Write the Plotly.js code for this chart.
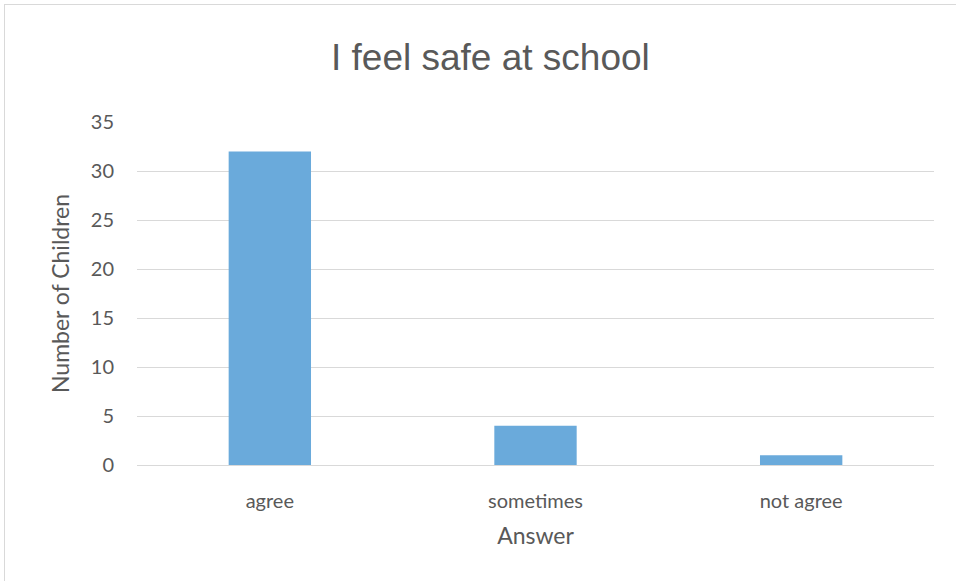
<!DOCTYPE html>
<html>
<head>
<meta charset="utf-8">
<script src="https://cdn.plot.ly/plotly-3.0.1.min.js"></script>
<style>
  html, body { margin: 0; padding: 0; background: #fff; overflow: hidden; }
  #frame { position: absolute; left: 4px; top: 4px; width: 980px; height: 600px;
           border-left: 1px solid #d9d9d9; border-top: 1px solid #d9d9d9; }
  #chart { position: absolute; left: 0; top: 0; width: 956px; height: 581px; }
</style>
</head>
<body>
<div id="frame"></div>
<div id="chart"></div>
<script>
const categories = ["agree", "sometimes", "not agree"];
const counts = [32, 4, 1];
const yTicks = [0, 5, 10, 15, 20, 25, 30, 35];

const trace = {
  type: "bar",
  x: categories,
  y: counts,
  marker: { color: "#6aaadb" },
  hoverinfo: "x+y"
};

const layout = {
  width: 956,
  height: 581,
  paper_bgcolor: "rgba(0,0,0,0)",
  plot_bgcolor: "rgba(0,0,0,0)",
  margin: { l: 137, r: 22, t: 122, b: 116 },
  bargap: 0.69,
  showlegend: false,
  font: { family: "Lato, 'Open Sans', sans-serif", color: "#595959", size: 20 },
  title: {
    text: "I feel safe at school",
    font: { family: "'Liberation Sans', Arial, sans-serif", size: 37, color: "#595959" },
    x: 0.513, xanchor: "center",
    y: 0.902, yanchor: "middle"
  },
  xaxis: {
    type: "category",
    showgrid: false,
    showline: false,
    zeroline: false,
    ticks: "",
    ticklabelstandoff: 22,
    tickfont: { size: 20, color: "#595959" },
    title: { text: "Answer", font: { size: 23, color: "#595959" }, standoff: 16 }
  },
  yaxis: {
    range: [0, 35],
    tickvals: yTicks,
    ticktext: yTicks.map(String),
    showgrid: true,
    gridcolor: "#d9d9d9",
    gridwidth: 1,
    zeroline: true,
    zerolinecolor: "#d9d9d9",
    zerolinewidth: 1,
    showline: false,
    ticks: "",
    ticklabelstandoff: 22,
    tickfont: { size: 20, color: "#595959" },
    title: { text: "Number of Children", font: { size: 23, color: "#595959" }, standoff: 14 }
  }
};

Plotly.newPlot("chart", [trace], layout, { displayModeBar: false, staticPlot: true });
</script>
</body>
</html>
